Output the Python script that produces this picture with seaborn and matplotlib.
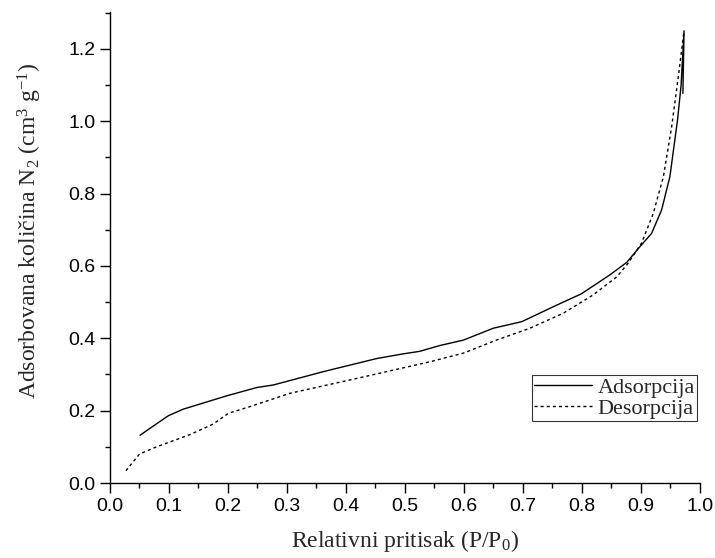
import matplotlib
matplotlib.use("Agg")
import matplotlib.pyplot as plt
import seaborn as sns
import pandas as pd
from matplotlib.ticker import MultipleLocator, FormatStrFormatter

ads_x = [0.051, 0.073, 0.099, 0.124, 0.160, 0.198, 0.249, 0.277, 0.362, 0.452, 0.497, 0.525,
         0.559, 0.599, 0.650, 0.698, 0.751, 0.799, 0.847, 0.876, 0.898, 0.918, 0.935, 0.949,
         0.962, 0.968, 0.973, 0.971]
ads_y = [0.132, 0.157, 0.186, 0.204, 0.222, 0.241, 0.264, 0.271, 0.308, 0.344, 0.357, 0.364,
         0.380, 0.395, 0.428, 0.446, 0.487, 0.523, 0.575, 0.610, 0.653, 0.690, 0.755, 0.847,
         1.004, 1.100, 1.250, 1.077]
des_x = [0.027, 0.050, 0.079, 0.136, 0.175, 0.201, 0.237, 0.305, 0.418, 0.542, 0.599, 0.655,
         0.712, 0.768, 0.819, 0.859, 0.878, 0.901, 0.921, 0.938, 0.952, 0.963, 0.973]
des_y = [0.034, 0.080, 0.100, 0.134, 0.163, 0.193, 0.211, 0.248, 0.289, 0.335, 0.359, 0.395,
         0.428, 0.469, 0.520, 0.570, 0.607, 0.663, 0.746, 0.847, 0.985, 1.120, 1.250]

sns.set_style("ticks")
plt.rcParams['font.family'] = ['Liberation Sans', 'DejaVu Sans']
plt.rcParams['mathtext.fontset'] = 'custom'
plt.rcParams['mathtext.rm'] = 'Liberation Serif'
plt.rcParams['mathtext.it'] = 'Liberation Serif:italic'

fig = plt.figure(figsize=(7.15, 5.58), dpi=100)
ax = fig.add_axes([0.1538, 0.1344, 0.8252, 0.8441])

ads = pd.DataFrame({'x': ads_x, 'y': ads_y})
des = pd.DataFrame({'x': des_x, 'y': des_y})
sns.lineplot(data=ads, x='x', y='y', sort=False, estimator=None, ax=ax,
             color='black', lw=1.0, label='Adsorpcija')
sns.lineplot(data=des, x='x', y='y', sort=False, estimator=None, ax=ax,
             color='black', lw=1.0, label='Desorpcija')
ax.lines[1].set_dashes([2.2, 2.2])

ax.set_xlim(0, 1.0)
ax.set_ylim(0, 1.302)
ax.xaxis.set_major_locator(MultipleLocator(0.1))
ax.xaxis.set_minor_locator(MultipleLocator(0.05))
ax.yaxis.set_major_locator(MultipleLocator(0.2))
ax.yaxis.set_minor_locator(MultipleLocator(0.1))
ax.xaxis.set_major_formatter(FormatStrFormatter('%.1f'))
ax.yaxis.set_major_formatter(FormatStrFormatter('%.1f'))
ax.tick_params(which='major', direction='out', length=7, width=1, labelsize=14, colors='black')
ax.tick_params(which='minor', direction='out', length=3.5, width=1, colors='black')
for s in ['top', 'right']:
    ax.spines[s].set_visible(False)
for s in ['left', 'bottom']:
    ax.spines[s].set_linewidth(1.0)
    ax.spines[s].set_color('black')

ax.set_xlabel(r'Relativni pritisak (P/P$_0$)', family='Liberation Serif', fontsize=17)
ax.set_ylabel(r'Adsorbovana količina N$_2$ (cm$^3$ g$^{-1}$)', family='Liberation Serif', fontsize=17)
ax.xaxis.set_label_coords(0.5, -0.095)
ax.yaxis.set_label_coords(-0.112, 0.535)

leg = ax.legend(loc='lower right', bbox_to_anchor=(0.995, 0.132), frameon=True, fancybox=False,
                prop={'family': 'Liberation Serif', 'size': 16}, handlelength=2.6,
                borderpad=0.1, labelspacing=0.0, handletextpad=0.25, borderaxespad=0)
leg.get_frame().set_edgecolor('black')
leg.get_frame().set_linewidth(0.8)

fig.savefig('out.png', dpi=100)
